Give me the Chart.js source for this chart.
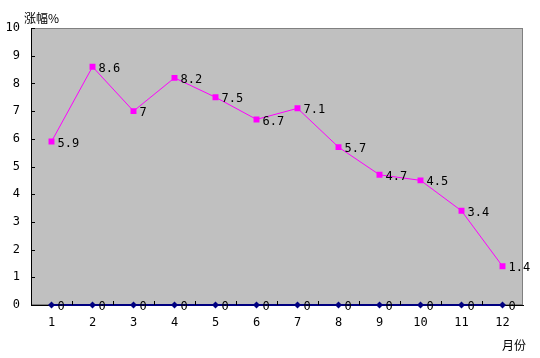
<!DOCTYPE html>
<html>
<head>
<meta charset="utf-8">
<script src="https://cdn.jsdelivr.net/npm/chart.js@4"></script>
<style>
  html, body { margin: 0; padding: 0; background: #fff; }
  #wrap { width: 540px; height: 358px; }
</style>
</head>
<body>
<div id="wrap"><canvas id="chart"></canvas></div>
<script>
// data
var months = ['1', '2', '3', '4', '5', '6', '7', '8', '9', '10', '11', '12'];
var growth = [5.9, 8.6, 7, 8.2, 7.5, 6.7, 7.1, 5.7, 4.7, 4.5, 3.4, 1.4];
var baseline = [0, 0, 0, 0, 0, 0, 0, 0, 0, 0, 0, 0];
var yTitle = '涨幅%';
var xTitle = '月份';

var tickFont = { family: 'DejaVu Sans Mono', size: 12 };

// value labels, inner tick marks and axis titles
var extras = {
    id: 'extras',
    afterDatasetsDraw: function(chart) {
        var ctx = chart.ctx;
        var area = chart.chartArea;
        var xs = chart.scales.x, ys = chart.scales.y;
        ctx.save();

        // inner ticks
        ctx.strokeStyle = '#000';
        ctx.lineWidth = 1;
        ctx.beginPath();
        for (var v = 0; v <= 10; v++) {
            var py = Math.round(ys.getPixelForValue(v)) + 0.5;
            ctx.moveTo(area.left, py);
            ctx.lineTo(area.left + 4, py);
        }
        for (var i = 1; i < months.length; i++) {
            var px = Math.round((xs.getPixelForValue(i - 1) + xs.getPixelForValue(i)) / 2) + 0.5;
            ctx.moveTo(px, area.bottom);
            ctx.lineTo(px, area.bottom - 4);
        }
        ctx.stroke();

        // data labels
        ctx.fillStyle = '#000';
        ctx.font = '12px "DejaVu Sans Mono"';
        ctx.textAlign = 'left';
        ctx.textBaseline = 'middle';
        chart.data.datasets.forEach(function(ds, di) {
            var meta = chart.getDatasetMeta(di);
            meta.data.forEach(function(pt, k) {
                ctx.fillText(String(ds.data[k]), pt.x + 6, pt.y + 2);
            });
        });

        // axis titles
        ctx.font = '12px "Noto Sans CJK SC"';
        ctx.textBaseline = 'alphabetic';
        ctx.fillText(yTitle, 24, 23);
        ctx.fillText(xTitle, 502, 350);
        ctx.restore();
    }
};

new Chart(document.getElementById('chart'), {
    type: 'line',
    data: {
        labels: months,
        datasets: [{
            label: 'growth',
            data: growth,
            borderColor: '#FF00FF',
            backgroundColor: '#FF00FF',
            borderWidth: 1,
            pointStyle: 'rect',
            pointRadius: 4.2,
            pointBorderWidth: 0,
            tension: 0
        }, {
            label: 'base',
            data: baseline,
            borderColor: '#000080',
            backgroundColor: '#000080',
            borderWidth: 2,
            pointStyle: 'rectRot',
            pointRadius: 3.5,
            pointBorderWidth: 0,
            tension: 0,
            clip: 6
        }]
    },
    options: {
        responsive: true,
        maintainAspectRatio: false,
        animation: false,
        layout: { padding: { top: 28, right: 17, left: 0, bottom: 0 } },
        plugins: {
            legend: { display: false },
            tooltip: { enabled: false }
        },
        scales: {
            x: {
                offset: true,
                grid: { display: false, drawTicks: false },
                border: { display: true, color: '#000', width: 1 },
                ticks: { color: '#000', font: tickFont, padding: 11, maxRotation: 0 },
                afterFit: function(s) { s.height = 53; }
            },
            y: {
                min: 0,
                max: 10,
                grid: { display: false, drawTicks: false },
                border: { display: true, color: '#000', width: 1 },
                ticks: { stepSize: 1, color: '#000', font: tickFont, padding: 11 },
                afterFit: function(s) { s.width = 31; }
            }
        }
    },
    plugins: [{
        id: 'plotBg',
        beforeDraw: function(chart) {
            var a = chart.chartArea;
            chart.ctx.save();
            chart.ctx.fillStyle = '#C0C0C0';
            chart.ctx.fillRect(a.left, a.top, a.right - a.left, a.bottom - a.top);
            chart.ctx.strokeStyle = '#808080';
            chart.ctx.lineWidth = 1;
            chart.ctx.strokeRect(a.left + 0.5, a.top + 0.5, a.right - a.left - 1, a.bottom - a.top - 1);
            chart.ctx.restore();
        }
    }, extras]
});
</script>
</body>
</html>
